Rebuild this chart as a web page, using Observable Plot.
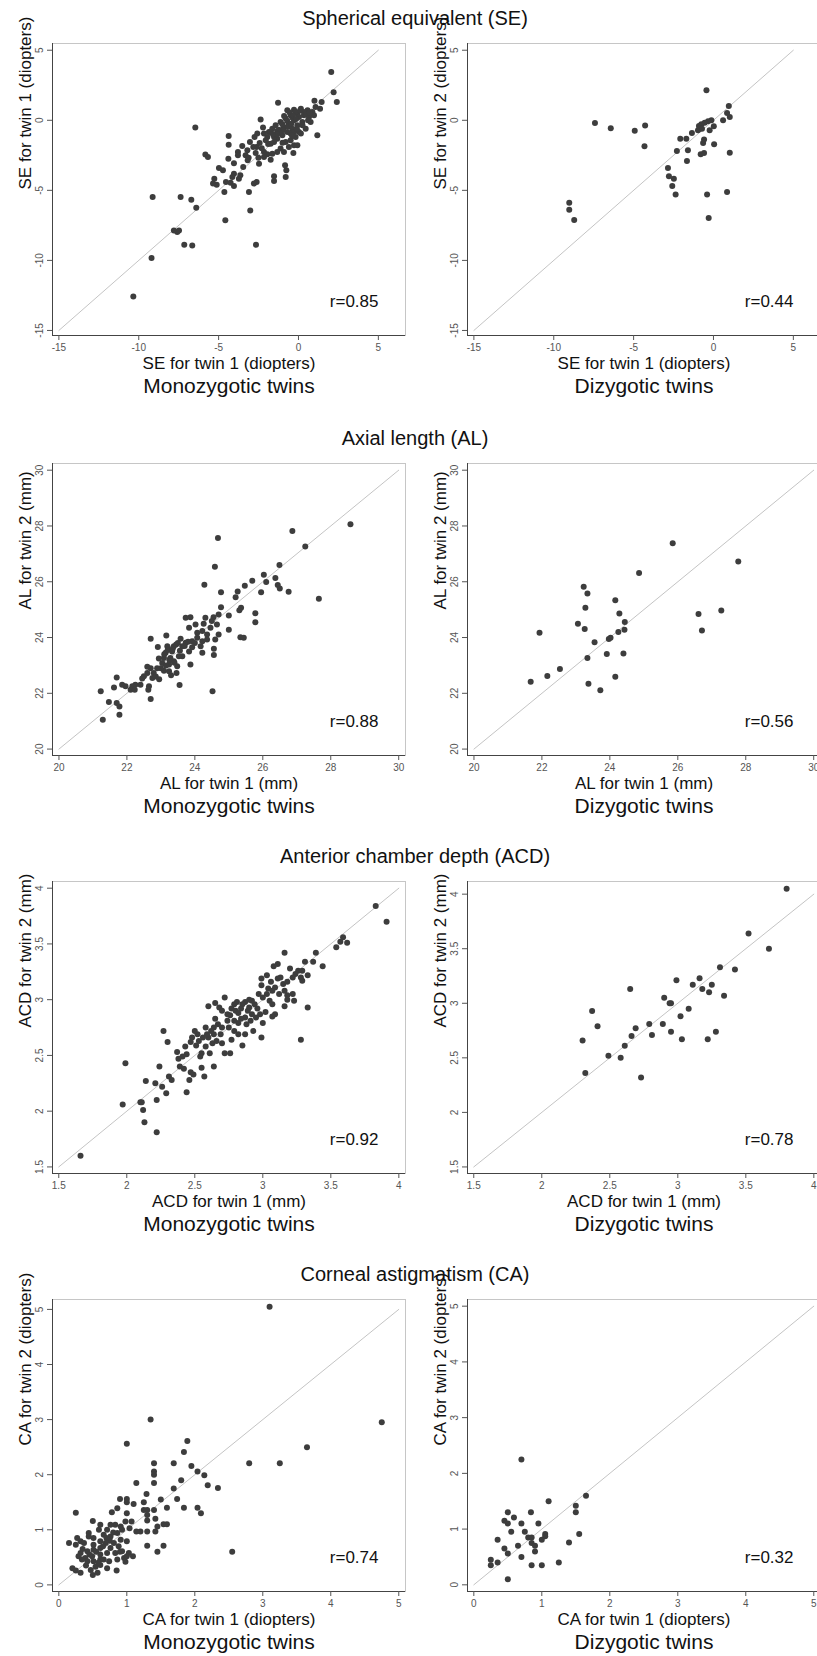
<!DOCTYPE html>
<html><head><meta charset="utf-8">
<script src="https://cdn.jsdelivr.net/npm/d3@7"></script>
<script src="https://cdn.jsdelivr.net/npm/@observablehq/plot@0.6"></script>
<style>
html,body{margin:0;padding:0;background:#fff;overflow:hidden}
#root{position:relative;width:817px;height:1656px;overflow:hidden;font-family:"Liberation Sans",Arial,sans-serif;background:#fff}
.title{position:absolute;left:0;width:830px;text-align:center;font-size:20px;color:#111;line-height:22px;white-space:nowrap}
.panel{position:absolute}
</style></head><body><div id="root"></div>
<script>
// ---------- data (twin 1, twin 2) ----------
const seMZ = [[2.05,3.45],[2.2,2.0],[2.4,1.3],[1.0,1.4],[1.45,1.3],[1.35,0.83],[1.18,-1.07],[-1.28,1.26],[-2.37,0.05],[-2.22,-0.52],[-6.46,-0.52],[-4.37,-1.12],[-4.37,-1.74],[-3.52,-1.83],[-3.04,-1.55],[-2.62,-1.9],[-3.79,-2.26],[-3.79,-2.5],[-4.39,-2.74],[-5.83,-2.45],[-5.67,-2.62],[-3.31,-2.5],[-3.12,-2.67],[-4.98,-3.4],[-4.73,-3.57],[-4.04,-3.07],[-3.18,-2.86],[-2.47,-3.1],[-2.51,-2.67],[-2.16,-2.62],[-1.74,-2.81],[-1.95,-2.43],[-2.68,-2.33],[-2.16,-2.26],[-4.04,-3.81],[-4.14,-4.05],[-3.64,-3.93],[-3.73,-4.17],[-3.46,-3.33],[-5.27,-4.17],[-5.12,-4.6],[-5.35,-4.52],[-4.54,-4.4],[-4.25,-4.45],[-4.04,-4.69],[-4.64,-5.12],[-3.1,-5.12],[-2.62,-4.4],[-2.79,-4.52],[-1.53,-4.0],[-1.53,-4.33],[-0.8,-4.05],[-0.76,-3.57],[-0.84,-3.21],[-0.32,-2.33],[-9.13,-5.48],[-7.38,-5.48],[-6.71,-5.67],[-6.4,-6.24],[-3.02,-6.43],[-4.58,-7.14],[-7.8,-7.86],[-7.59,-7.98],[-7.48,-7.86],[-7.15,-8.88],[-6.65,-8.93],[-2.66,-8.88],[-9.2,-9.83],[-10.34,-12.57],
[-0.7,0.71],[-0.28,0.76],[0.15,0.83],[0.57,0.71],[0.87,0.6],[-0.07,0.48],[-0.49,0.36],[-0.8,0.12],[-1.12,-0.12],[-1.43,-0.36],[-1.64,-0.6],[-1.85,-0.83],[-1.22,-0.67],[-0.91,-0.5],[-0.6,-0.24],[-0.28,0.0],[0.03,0.24],[0.34,0.36],[0.66,0.24],[0.97,0.36],[1.07,0.95],[0.24,-0.12],[-0.07,-0.36],[-0.39,-0.6],[-0.7,-0.83],[-1.01,-1.07],[-1.33,-1.31],[-1.53,-1.55],[-1.74,-1.67],[-1.95,-1.19],[-2.16,-0.95],[-2.05,-1.43],[-0.8,-1.55],[-0.49,-1.43],[-0.18,-1.19],[0.03,-0.83],[0.45,-0.6],[-1.12,-2.02],[-0.91,-2.26],[-0.6,-1.9],[-0.28,-1.79],[-0.07,-1.79],[-1.33,-2.26],[-1.64,-2.38],[-1.74,-0.83],[-1.53,-1.19],[-1.33,-0.76],[-1.01,-0.29],[-0.7,-0.05],[-0.39,0.19],[-0.18,0.6],[0.34,0.6],[-0.49,-0.95],[-0.28,-0.83],[0.15,-0.95],[0.76,-0.12],[-2.58,-0.95],[-2.75,-1.19],[-2.43,-1.62],[-3.2,-2.14],[-2.83,-1.9],
[-0.55,0.55],[-0.35,0.35],[-0.15,0.1],[-0.95,-0.7],[-1.15,-0.9],[-0.65,-0.45],[-0.45,-0.25],[-1.35,-1.0],[0.5,0.45],[0.7,0.55],[0.1,0.7],[-0.9,0.3],[-1.6,-1.0],[-1.9,-1.7],[-2.3,-2.0],[-1.0,-1.6],[-0.4,-1.1],[0.25,-0.35],[0.6,0.0],[-0.1,-0.6]];
const seDZ = [[-0.44,2.14],[0.96,1.02],[0.85,0.52],[1.02,0.24],[0.6,0.0],[-0.13,0.0],[-0.34,-0.07],[-0.55,-0.17],[-0.76,-0.29],[-0.91,-0.4],[-0.86,-0.6],[-0.97,-0.71],[-0.72,-0.6],[0.02,-0.43],[-0.24,-0.71],[-1.35,-0.9],[-2.08,-1.31],[-1.7,-1.31],[-0.59,-1.38],[-0.65,-1.62],[0.04,-1.71],[-2.29,-2.19],[-1.6,-2.14],[-0.8,-2.43],[-0.59,-2.33],[1.02,-2.31],[-1.66,-2.9],[-2.85,-3.4],[-2.79,-4.0],[-2.48,-4.17],[-2.58,-4.69],[-2.37,-5.29],[-0.4,-5.29],[0.85,-5.12],[-0.3,-6.98],[-7.42,-0.19],[-6.43,-0.57],[-4.93,-0.74],[-4.28,-0.38],[-4.32,-1.86],[-9.03,-5.88],[-9.03,-6.38],[-8.72,-7.12]];
const alMZ = [[28.58,28.06],[26.87,27.82],[27.25,27.26],[24.68,27.57],[24.59,26.54],[26.49,26.6],[27.65,25.39],[24.28,25.89],[26.03,26.25],[26.1,25.99],[26.37,26.13],[26.44,25.88],[26.5,25.76],[26.76,25.64],[25.95,25.62],[25.69,26.04],[25.47,25.86],[25.26,25.65],[25.2,25.44],[25.36,25.07],[25.31,24.98],[25.78,24.87],[25.78,24.55],[25.34,24.01],[25.44,23.99],[25.0,24.79],[25.0,24.28],[24.77,25.62],[24.77,25.09],[24.7,24.83],[24.55,24.73],[24.5,24.59],[24.46,24.35],[24.65,24.47],[24.7,24.11],[24.6,23.93],[24.56,23.6],[24.56,23.37],[24.52,22.07],[24.31,24.71],[24.26,24.49],[24.22,24.23],[24.36,24.11],[24.36,23.93],[24.22,23.87],[24.17,23.69],[24.22,23.45],[24.02,24.47],[24.07,23.99],[24.07,24.17],[23.87,24.73],[23.73,24.71],[23.83,24.35],[23.92,23.87],[23.92,23.65],[23.83,23.5],[23.87,23.03],[23.73,23.81],[23.63,23.69],[23.58,23.96],[23.56,23.53],[23.53,23.33],[23.48,22.97],[23.46,22.73],[23.55,22.3],[23.38,23.69],[23.33,23.5],[23.28,23.27],[23.24,23.03],[23.3,22.65],[23.19,23.69],[23.14,23.45],[23.09,23.27],[23.04,23.09],[23.0,22.9],[23.16,24.07],[22.91,23.66],[22.94,23.25],[22.89,22.9],[22.79,22.73],[22.75,22.55],[22.7,22.9],[22.7,23.96],[22.6,22.95],[22.6,22.73],[22.5,22.61],[22.45,22.53],[22.65,22.25],[22.63,22.13],[22.7,21.8],[22.25,22.31],[22.16,22.25],[22.11,22.13],[22.23,22.13],[21.96,22.25],[21.86,22.31],[21.7,22.57],[21.62,22.21],[21.23,22.07],[21.47,21.69],[21.7,21.65],[21.78,21.53],[21.78,21.23],[21.29,21.05],[22.4,22.31],[23.09,22.81],[23.24,22.79],[23.38,23.15],[23.63,23.33],
[23.2,23.55],[23.35,23.6],[23.45,23.75],[23.1,23.4],[23.25,23.2],[23.7,23.7],[23.8,23.85],[23.5,23.8],[24.0,23.8],[23.4,23.1],[22.85,22.6],[22.95,22.5],[23.15,23.0]];
const alDZ = [[25.85,27.38],[27.78,26.73],[24.86,26.31],[23.23,25.82],[23.34,25.58],[23.28,25.07],[24.16,25.34],[24.28,24.86],[24.44,24.56],[24.43,24.28],[24.25,24.2],[23.06,24.49],[23.26,24.31],[26.61,24.84],[27.28,24.97],[26.71,24.25],[21.93,24.17],[23.55,23.83],[23.97,23.95],[24.02,23.99],[23.91,23.41],[24.4,23.43],[23.34,23.27],[22.53,22.87],[22.16,22.62],[21.67,22.41],[24.16,22.59],[23.37,22.34],[23.72,22.11]];
const acdMZ = [[3.83,3.84],[3.91,3.7],[3.59,3.56],[3.57,3.52],[3.62,3.51],[3.54,3.47],[3.16,3.42],[3.39,3.42],[3.37,3.34],[3.44,3.3],[3.31,3.34],[3.29,3.26],[3.33,3.22],[3.26,3.26],[3.24,3.23],[3.22,3.2],[3.29,3.17],[3.11,3.32],[3.08,3.3],[3.03,3.22],[2.99,3.19],[2.99,3.13],[3.06,3.16],[3.11,3.19],[3.15,3.14],[3.18,3.16],[3.16,3.08],[3.12,3.05],[3.09,3.11],[3.07,3.08],[3.03,3.05],[3.04,3.1],[3.0,3.02],[3.05,2.99],[3.07,2.96],[3.18,3.0],[3.22,3.05],[3.28,3.2],[3.33,2.93],[3.28,2.64],[3.09,2.87],[3.07,2.85],[3.02,2.89],[3.0,2.79],[2.98,2.87],[2.96,2.92],[2.94,2.96],[2.92,2.99],[2.9,3.0],[2.87,2.98],[2.85,2.96],[2.81,2.98],[2.79,2.96],[2.77,2.92],[2.8,2.9],[2.84,2.92],[2.89,2.9],[2.92,2.87],[2.95,2.84],[2.91,2.81],[2.87,2.84],[2.84,2.83],[2.82,2.79],[2.79,2.81],[2.76,2.86],[2.74,2.87],[2.72,3.02],[2.74,2.81],[2.75,2.75],[2.79,2.72],[2.87,2.69],[2.82,2.69],[2.85,2.59],[2.77,2.64],[2.76,2.52],[2.72,2.52],[2.7,2.61],[2.69,2.69],[2.7,2.75],[2.67,2.78],[2.65,2.83],[2.64,2.75],[2.64,2.69],[2.62,2.72],[2.6,2.66],[2.59,2.69],[2.56,2.66],[2.63,2.61],[2.65,2.97],[2.6,2.94],[2.61,2.52],[2.64,2.4],[2.58,2.58],[2.55,2.52],[2.54,2.49],[2.51,2.59],[2.52,2.69],[2.48,2.66],[2.47,2.62],[2.5,2.72],[2.43,2.58],[2.44,2.51],[2.41,2.49],[2.37,2.53],[2.38,2.47],[2.39,2.4],[2.42,2.38],[2.55,2.39],[2.57,2.31],[2.47,2.35],[2.49,2.33],[2.46,2.28],[2.44,2.17],[2.27,2.72],[2.3,2.62],[2.24,2.4],[2.31,2.31],[2.33,2.28],[2.14,2.27],[2.21,2.25],[2.26,2.22],[2.29,2.16],[2.22,2.1],[1.99,2.43],[1.97,2.06],[2.1,2.08],[2.11,2.08],[2.12,2.01],[2.13,1.9],[2.22,1.81],[1.66,1.6],[2.68,2.93],[2.93,2.72],[2.99,2.66],[3.16,2.94],[3.23,2.99],[3.18,3.04],
[2.7,2.9],[2.82,2.88],[2.9,2.93],[2.97,3.05],[3.13,3.2],[3.2,3.28],[2.58,2.75],[2.53,2.63],[2.66,2.63],[2.88,2.78]];
const acdDZ = [[3.8,4.05],[3.52,3.64],[3.67,3.5],[3.31,3.33],[3.42,3.31],[3.16,3.23],[2.99,3.21],[3.11,3.17],[3.25,3.17],[3.18,3.13],[3.23,3.1],[3.34,3.07],[2.65,3.13],[2.9,3.05],[2.95,3.0],[2.94,3.0],[3.08,2.95],[3.02,2.88],[2.37,2.93],[2.41,2.79],[2.79,2.81],[2.89,2.81],[2.69,2.77],[2.81,2.71],[2.95,2.74],[2.66,2.7],[3.28,2.74],[3.03,2.67],[3.22,2.67],[2.3,2.66],[2.61,2.61],[2.49,2.52],[2.58,2.5],[2.32,2.36],[2.73,2.32]];
const caMZ = [[3.1,5.05],[4.75,2.95],[3.65,2.5],[3.25,2.21],[2.8,2.21],[2.55,0.6],[1.35,3.0],[1.0,2.56],[1.89,2.61],[1.84,2.41],[1.4,2.21],[1.69,2.21],[1.4,2.06],[1.4,2.0],[1.95,2.16],[2.04,2.06],[2.14,1.99],[1.8,1.9],[1.14,1.85],[1.4,1.85],[2.19,1.81],[2.34,1.76],[1.69,1.75],[1.29,1.65],[1.74,1.56],[1.5,1.55],[0.9,1.56],[1.0,1.56],[1.0,1.5],[1.1,1.47],[1.25,1.5],[1.59,1.4],[1.84,1.4],[2.04,1.4],[2.09,1.3],[1.25,1.36],[1.3,1.36],[1.4,1.36],[0.86,1.39],[0.78,1.32],[1.0,1.3],[1.3,1.27],[1.3,1.17],[1.42,1.2],[0.25,1.31],[0.5,1.16],[1.54,1.1],[1.59,1.1],[1.45,1.06],[1.42,0.97],[1.3,0.97],[1.2,0.97],[1.14,0.97],[1.04,1.03],[1.07,1.15],[0.98,1.15],[0.83,1.09],[0.91,1.06],[0.93,1.0],[0.86,0.94],[0.76,0.88],[0.66,0.91],[0.59,1.0],[0.44,0.94],[0.44,0.88],[0.27,0.85],[0.32,0.79],[0.15,0.76],[0.25,0.73],[0.37,0.76],[0.51,0.85],[0.61,0.79],[0.69,0.76],[0.81,0.76],[0.91,0.82],[1.0,0.79],[0.88,0.7],[0.76,0.67],[0.61,0.67],[0.51,0.64],[0.42,0.61],[0.32,0.58],[0.29,0.52],[0.39,0.49],[0.49,0.52],[0.61,0.55],[0.71,0.58],[0.83,0.58],[0.93,0.61],[1.03,0.58],[1.09,0.52],[0.96,0.49],[0.86,0.46],[0.74,0.43],[0.61,0.46],[0.51,0.43],[0.42,0.43],[0.34,0.46],[0.2,0.3],[0.25,0.26],[0.32,0.22],[0.47,0.27],[0.54,0.33],[0.61,0.36],[0.5,0.18],[0.57,0.22],[0.71,0.3],[0.85,0.26],[0.98,0.42],[1.0,0.52],[1.3,0.71],[1.45,0.6],[1.54,0.71],[0.66,0.46],[0.51,0.73],[0.71,1.0],[0.76,1.09],[0.61,1.09],
[0.55,0.6],[0.65,0.7],[0.75,0.8],[0.45,0.55],[0.35,0.65],[0.8,0.95],[0.9,0.6],[0.58,0.4],[0.4,0.35],[0.7,0.85]];
const caDZ = [[0.7,2.25],[1.65,1.6],[1.1,1.5],[1.5,1.42],[1.5,1.3],[0.5,1.3],[0.84,1.3],[0.45,1.15],[0.5,1.1],[0.59,1.21],[0.7,1.1],[0.95,1.1],[0.55,0.95],[0.75,0.95],[1.55,0.91],[1.05,0.91],[1.05,0.87],[0.8,0.85],[0.85,0.85],[1.0,0.81],[0.35,0.81],[0.85,0.75],[1.4,0.76],[0.65,0.7],[0.9,0.7],[0.45,0.65],[0.9,0.6],[0.5,0.56],[0.7,0.5],[0.25,0.45],[0.35,0.4],[1.25,0.4],[0.25,0.35],[0.85,0.35],[1.0,0.35],[0.5,0.1]];

const rowTitles = ["Spherical equivalent (SE)", "Axial length (AL)", "Anterior chamber depth (ACD)", "Corneal astigmatism (CA)"];
const groups = ["Monozygotic twins", "Dizygotic twins"];
const xLabels = ["SE for twin 1 (diopters)", "AL for twin 1 (mm)", "ACD for twin 1 (mm)", "CA for twin 1 (diopters)"];
const yLabelsMZ = ["SE for twin 1 (diopters)", "AL for twin 2 (mm)", "ACD for twin 2 (mm)", "CA for twin 2 (diopters)"];
const yLabelsDZ = ["SE for twin 2 (diopters)", "AL for twin 2 (mm)", "ACD for twin 2 (mm)", "CA for twin 2 (diopters)"];
const rValuesMZ = ["r=0.85", "r=0.88", "r=0.92", "r=0.74"];
const rValuesDZ = ["r=0.44", "r=0.56", "r=0.78", "r=0.32"];
const ticks = [[-15,-10,-5,0,5],[20,22,24,26,28,30],[1.5,2,2.5,3,3.5,4],[0,1,2,3,4,5]];
const xDomains = [[-15.4,6.7],[19.81,30.2],[1.454,4.049],[-0.093,5.099]];
const yDomainsMZ = [[-15.36,5.48],[19.77,30.24],[1.441,4.06],[-0.12,5.18]];
const yDomainsDZ = [[-15.36,5.48],[19.77,30.24],[1.44,4.116],[-0.12,5.12]];
const dataMZ = [seMZ, alMZ, acdMZ, caMZ];
const dataDZ = [seDZ, alDZ, acdDZ, caDZ];

// ---------- layout ----------
const frameTops = [43, 463, 881, 1299];
const FRAME_H = 292, MT = 10, MB = 62;
const FONT = '"Liberation Sans", Arial, sans-serif';
const root = document.getElementById("root");

function panel(i, data, yDom, yLabel, rText, group, left, mL, mR) {
  const t = ticks[i];
  const xDom = xDomains[i];
  const diag = [t[0], t[t.length - 1]];
  const fmt = d => String(d);
  const chart = Plot.plot({
    width: 410, height: MT + FRAME_H + MB,
    marginLeft: mL, marginRight: mR, marginTop: MT, marginBottom: MB,
    style: {fontFamily: FONT, background: "transparent", overflow: "visible"},
    x: {domain: xDom},
    y: {domain: yDom},
    marks: [
      Plot.frame({stroke: "#c6c6c6"}),
      Plot.ruleX([xDom[0]], {stroke: "#444"}),
      Plot.ruleY([yDom[0]], {stroke: "#444"}),
      Plot.line(diag, {x: d => d, y: d => d, stroke: "#c4c4c4", strokeWidth: 1}),
      Plot.dot(data, {x: d => d[0], y: d => d[1], r: 3, fill: "#3d3d3d", stroke: null}),
      Plot.axisX(t, {tickSize: 5, tickPadding: 3, fontSize: 10, color: "#555", label: null, tickFormat: fmt}),
      Plot.axisY(t, {tickSize: 5, color: "#555", label: null, tickFormat: () => ""}),
      Plot.text(t, {y: d => d, text: fmt, frameAnchor: "left", dx: -13, rotate: -90, fontSize: 10, fill: "#555", textAnchor: "middle", lineAnchor: "middle"}),
      Plot.text([rText], {frameAnchor: "bottom-right", dx: -27, dy: -34, fontSize: 17, fill: "#111", textAnchor: "end", lineAnchor: "middle"}),
      Plot.text([xLabels[i]], {frameAnchor: "bottom", dy: 28, fontSize: 17, fill: "#111", lineAnchor: "middle"}),
      Plot.text([group], {frameAnchor: "bottom", dy: 51, fontSize: 21, fill: "#111", lineAnchor: "middle"}),
      Plot.text([yLabel], {frameAnchor: "left", dx: -27, rotate: -90, fontSize: 17, fill: "#111", lineAnchor: "middle"})
    ]
  });
  chart.classList.add("panel");
  chart.style.left = left + "px";
  chart.style.top = (frameTops[i] - MT) + "px";
  root.appendChild(chart);
}

for (let i = 0; i < 4; i++) {
  const tdiv = document.createElement("div");
  tdiv.className = "title";
  tdiv.textContent = rowTitles[i];
  tdiv.style.top = (frameTops[i] - 25 - 11) + "px";
  root.appendChild(tdiv);
  panel(i, dataMZ[i], yDomainsMZ[i], yLabelsMZ[i], rValuesMZ[i], groups[0], 0, 52, 5);
  panel(i, dataDZ[i], yDomainsDZ[i], yLabelsDZ[i], rValuesDZ[i], groups[1], 410, 57, 0);
}
</script></body></html>
